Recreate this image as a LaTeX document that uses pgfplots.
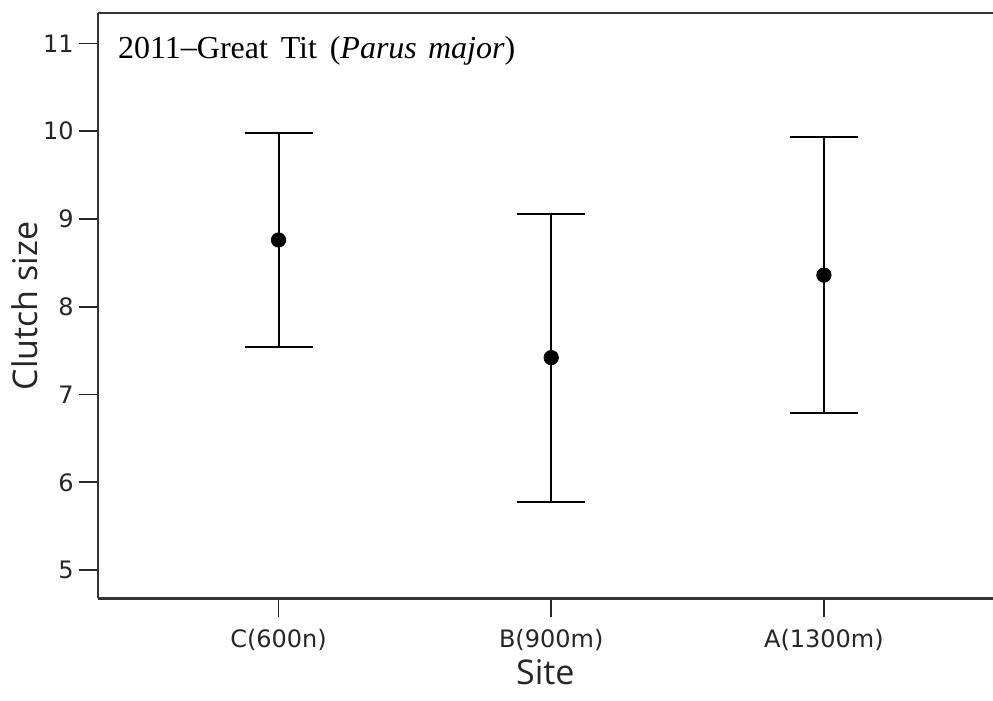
\documentclass[border=0pt]{standalone}
\usepackage{fontspec}
\setmainfont{Liberation Serif}
\newfontfamily\tickfont{DejaVu Sans}
\newfontfamily\labelfont{Open Sans}
\usepackage{pgfplots}
\pgfplotsset{compat=1.18}

\begin{document}
\begin{tikzpicture}
\begin{axis}[
    scale only axis,
    width=447.6pt, height=292.5pt,
    xmin=-0.663, xmax=2.62,
    ymin=4.678, ymax=11.342,
    axis x line*=box, axis y line*=left,
    axis line style={line width=1.2pt, black!80},
    xtick={0,1,2},
    xticklabels={C(600n), B(900m), A(1300m)},
    ytick={5,6,7,8,9,10,11},
    xtick pos=left, ytick pos=left,
    tick align=outside,
    major tick length=9.5pt,
    tick style={line width=0.8pt, black!85},
    /pgf/number format/assume math mode=true,
    tick label style={font=\tickfont\fontsize{12}{14}\selectfont, black!85},
    xticklabel style={yshift=-2.5pt},
    yticklabel style={xshift=1pt},
    xlabel={Site}, ylabel={Clutch size},
    x label style={at={([yshift=-37pt]rel axis cs:0.5,0)}, anchor=center,
        font=\labelfont\fontsize{17}{20}\selectfont, black!85},
    y label style={at={([xshift=-36.5pt]rel axis cs:0,0.5)}, anchor=center,
        font=\labelfont\fontsize{17}{20}\selectfont, black!85},
]
\addplot[
    only marks, mark=*, mark size=3.6pt, black,
    error bars/.cd, y dir=both, y explicit,
    error bar style={line width=1pt, black},
    error mark options={rotate=90, line width=1pt, mark size=17pt, black},
] coordinates {
    (0, 8.76) +- (0, 1.215)
    (1, 7.42) +- (0, 1.64)
    (2, 8.36) +- (0, 1.575)
};
\node[anchor=west, inner sep=0pt, font=\fontsize{16}{19}\selectfont]
    at ([xshift=10pt, yshift=-19pt]rel axis cs:0,1)
    {2011\raisebox{0.05em}{--}Great\hspace{0.4em}Tit\hspace{0.4em}(\textit{Parus}\hspace{0.35em}\textit{major})};
\coordinate (bl) at (rel axis cs:0,0);
\coordinate (tr) at (rel axis cs:1,1);
\end{axis}
\pgfresetboundingbox
\path[use as bounding box] ([xshift=-48.85pt, yshift=-50.85pt]bl) rectangle ([yshift=6.65pt]tr);
\end{tikzpicture}
\end{document}
